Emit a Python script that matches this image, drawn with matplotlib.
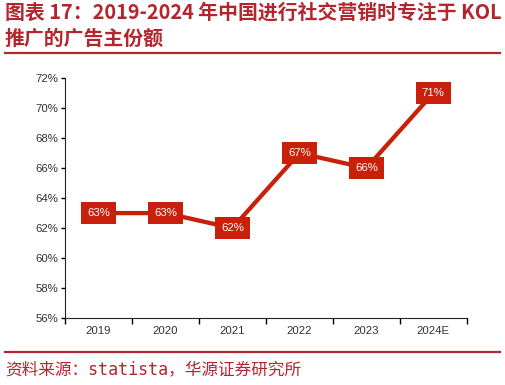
import matplotlib.pyplot as plt

# data
years = ["2019", "2020", "2021", "2022", "2023", "2024E"]
share = [63, 63, 62, 67, 66, 71]
y_ticks = [56, 58, 60, 62, 64, 66, 68, 70, 72]

title_text = "图表 17：2019-2024 年中国进行社交营销时专注于 KOL\n推广的广告主份额"
source_text = "资料来源：statista，华源证券研究所"

red = "#c8200a"
dark_red = "#b3262e"

plt.rcParams["font.family"] = ["Liberation Sans", "DejaVu Sans"]

fig = plt.figure(figsize=(5.06, 3.85), dpi=100)
ax = fig.add_axes([0.1285, 0.174, 0.794, 0.623])

x = list(range(len(years)))
ax.plot(x, share, color=red, linewidth=3.1, solid_capstyle="butt", zorder=2)

for xi, v in zip(x, share):
    ax.text(xi, v, f"{v}%", ha="center", va="center", color="white", fontsize=8.2,
            zorder=3,
            bbox=dict(boxstyle="square,pad=0.55", facecolor=red, edgecolor="none"))

ax.set_xlim(-0.5, len(years) - 0.5)
ax.set_ylim(56, 72)
ax.set_yticks(y_ticks)
ax.set_yticklabels([f"{t}%" for t in y_ticks], fontsize=8.2, color="#333333")

ax.set_xticks([i - 0.5 for i in range(len(years) + 1)])
ax.set_xticklabels([])
ax.set_xticks(x, minor=True)
ax.set_xticklabels(years, minor=True, fontsize=8.2, color="#333333")
ax.tick_params(axis="x", which="major", length=4, width=1, direction="out")
ax.tick_params(axis="x", which="minor", length=0, pad=6)
ax.tick_params(axis="y", length=3, width=1, direction="out", pad=2)

ax.spines["top"].set_visible(False)
ax.spines["right"].set_visible(False)
ax.spines["left"].set_color("#222222")
ax.spines["bottom"].set_color("#222222")

# title and footer
fig.text(0.01, 0.995, title_text, ha="left", va="top", fontsize=14.3, fontweight="bold",
         color=dark_red, family=["Noto Sans CJK SC", "DejaVu Sans"], linespacing=1.3)
fig.add_artist(plt.Line2D([0.01, 0.988], [0.862, 0.862], color=dark_red, linewidth=1.6))
fig.add_artist(plt.Line2D([0.01, 0.988], [0.085, 0.085], color=dark_red, linewidth=1.6))
fig.text(0.01, 0.04, source_text, ha="left", va="center", fontsize=12,
         color=dark_red, family=["DejaVu Sans Mono", "Noto Sans CJK SC"])

plt.savefig("out.png", dpi=100)
